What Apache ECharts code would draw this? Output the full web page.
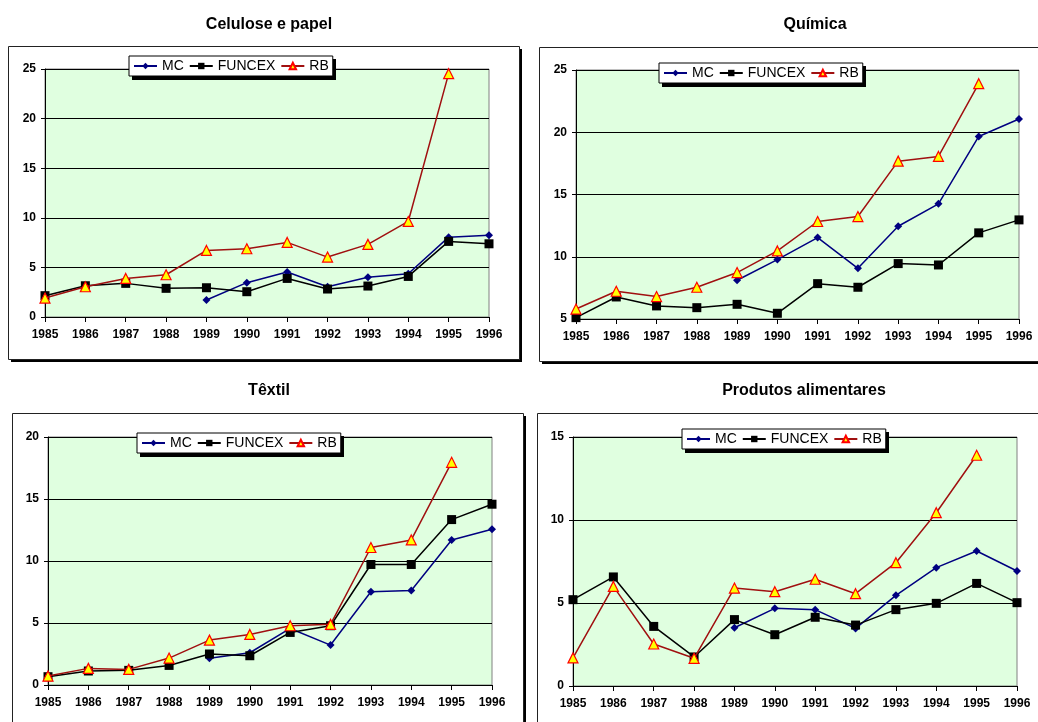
<!DOCTYPE html>
<html><head><meta charset="utf-8">
<script src="https://cdn.jsdelivr.net/npm/echarts@6/dist/echarts.min.js"></script>
<style>html,body{margin:0;padding:0;background:#fff}#c{width:1038px;height:722px}</style>
</head><body><div id="c"></div>
<script>
const years = ['1985','1986','1987','1988','1989','1990','1991','1992','1993','1994','1995','1996'];
const panelTitles = ['Celulose e papel','Química','Têxtil','Produtos alimentares'];
const seriesNames = ['MC','FUNCEX','RB'];

// Celulose e papel
const celMC     = [null,null,null,null,1.71,3.46,4.53,3.05,4.0,4.36,8.05,8.25];
const celFUNCEX = [2.15,3.15,3.39,2.89,2.95,2.55,3.89,2.82,3.12,4.09,7.62,7.38];
const celRB     = [1.91,3.05,3.89,4.26,6.71,6.88,7.52,6.04,7.32,9.63,24.53,null];
// Química
const quiMC     = [null,null,null,null,8.11,9.77,11.54,9.07,12.45,14.25,19.66,21.06];
const quiFUNCEX = [5.11,6.77,6.05,5.91,6.18,5.46,7.84,7.55,9.45,9.34,11.92,12.96];
const quiRB     = [5.8,7.23,6.8,7.55,8.73,10.47,12.83,13.23,17.68,18.06,23.9,null];
// Têxtil
const texMC     = [null,null,null,null,2.15,2.6,4.56,3.22,7.52,7.62,11.7,12.56];
const texFUNCEX = [0.67,1.13,1.18,1.58,2.5,2.36,4.24,4.78,9.72,9.72,13.34,14.58];
const texRB     = [0.72,1.34,1.26,2.17,3.62,4.08,4.78,4.89,11.09,11.7,17.96,null];
// Produtos alimentares
const aliMC     = [null,null,null,null,3.51,4.68,4.6,3.47,5.46,7.13,8.13,6.93];
const aliFUNCEX = [5.2,6.57,3.59,1.75,4.0,3.09,4.14,3.67,4.6,4.98,6.18,5.02];
const aliRB     = [1.69,6.0,2.53,1.67,5.9,5.68,6.43,5.56,7.43,10.44,13.9,null];

const yMin = [0,5,0,0];
const yMax = [25,25,20,15];
const panelData = [
  [celMC,celFUNCEX,celRB],
  [quiMC,quiFUNCEX,quiRB],
  [texMC,texFUNCEX,texRB],
  [aliMC,aliFUNCEX,aliRB]
];

const grids = [
  {left:45, top:69, width:444, height:248},
  {left:576, top:70, width:443, height:249},
  {left:48, top:437, width:444, height:248},
  {left:573, top:437, width:444, height:249}
];
const titlePos = [[264,12],[810,12],[264,378],[799,378]];
const legendBox = [[129,56],[659,63],[137,433],[682,429]];
const legendW = 204, legendH = 21;
const frames = [[8.5,46.5,511,313],[539.5,47.5,510,314],[12.5,413.5,511,330],[537.5,413.5,510,330]];

const font = 'Arial, "Liberation Sans", sans-serif';
const styles = [
  {color:'#000080', symbol:'diamond', symbolSize:8, border:'#000080', fill:'#000080'},
  {color:'#000000', symbol:'rect', symbolSize:9, border:'#000000', fill:'#000000'},
  {color:'#A01010', symbol:'triangle', symbolSize:10, border:'#FF0000', fill:'#FFFF00'}
];

const graphics = [];
frames.forEach(f=>{
  graphics.push({type:'rect', shape:{x:f[0]+2.5,y:f[1]+2.5,width:f[2],height:f[3]}, z:-11, silent:true,
    style:{fill:'#000'}});
  graphics.push({type:'rect', shape:{x:f[0],y:f[1],width:f[2],height:f[3]}, z:-10, silent:true,
    style:{fill:'#fff', stroke:'#222', lineWidth:1}});
});
legendBox.forEach(p=>{
  graphics.push({type:'rect', shape:{x:p[0]+3,y:p[1]+3,width:legendW,height:legendH}, z:1, silent:true,
    style:{fill:'#000'}});
});

const option = {
  backgroundColor:'#ffffff',
  animation:false,
  title: panelTitles.map((t,i)=>({
    text:t, left:titlePos[i][0], top:titlePos[i][1], textAlign:'center',
    textStyle:{fontFamily:font, fontSize:16, fontWeight:'bold', color:'#000'}
  })),
  graphic: graphics,
  grid: grids.map(g=>Object.assign({show:true, backgroundColor:'#E0FFE0', borderColor:'#808080', borderWidth:1, containLabel:false}, g)),
  legend: legendBox.map((p,i)=>({
    left:p[0], top:p[1], data:seriesNames, itemGap:5, itemWidth:23, itemHeight:8,
    padding:[3,4,3,4], backgroundColor:'#fff', borderColor:'#000', borderWidth:1, z:3,
    textStyle:{fontFamily:font, fontSize:14, color:'#000'},
    selectedMode:false
  })),
  xAxis: grids.map((g,i)=>({
    type:'category', gridIndex:i, data:years, boundaryGap:false,
    axisLine:{lineStyle:{color:'#000', width:1}},
    axisTick:{show:true, length:5, lineStyle:{color:'#000'}, alignWithLabel:true},
    axisLabel:{fontFamily:font, fontSize:12, fontWeight:'bold', color:'#000', margin:12, interval:0},
    splitLine:{show:false}
  })),
  yAxis: grids.map((g,i)=>({
    type:'value', gridIndex:i, min:yMin[i], max:yMax[i], interval:5,
    axisLine:{show:true, lineStyle:{color:'#000', width:1}},
    axisTick:{show:true, length:4, lineStyle:{color:'#000'}},
    axisLabel:{fontFamily:font, fontSize:12, fontWeight:'bold', color:'#000', margin:9},
    splitLine:{show:true, lineStyle:{color:'#000', width:1}}
  })),
  series: []
};

panelData.forEach((arr,i)=>{
  arr.forEach((vals,k)=>{
    const s = styles[k];
    option.series.push({
      type:'line', name:seriesNames[k], xAxisIndex:i, yAxisIndex:i, data:vals,
      symbol:s.symbol, symbolSize:s.symbolSize, showSymbol:true, connectNulls:false,
      lineStyle:{color:s.color, width:1.5},
      itemStyle:{color:s.fill, borderColor:s.border, borderWidth: k===2?1.2:0},
      emphasis:{disabled:true}, z: k===2?3:2
    });
  });
});

const chart = echarts.init(document.getElementById('c'), null, {renderer:'canvas'});
chart.setOption(option);
</script>
</body></html>
